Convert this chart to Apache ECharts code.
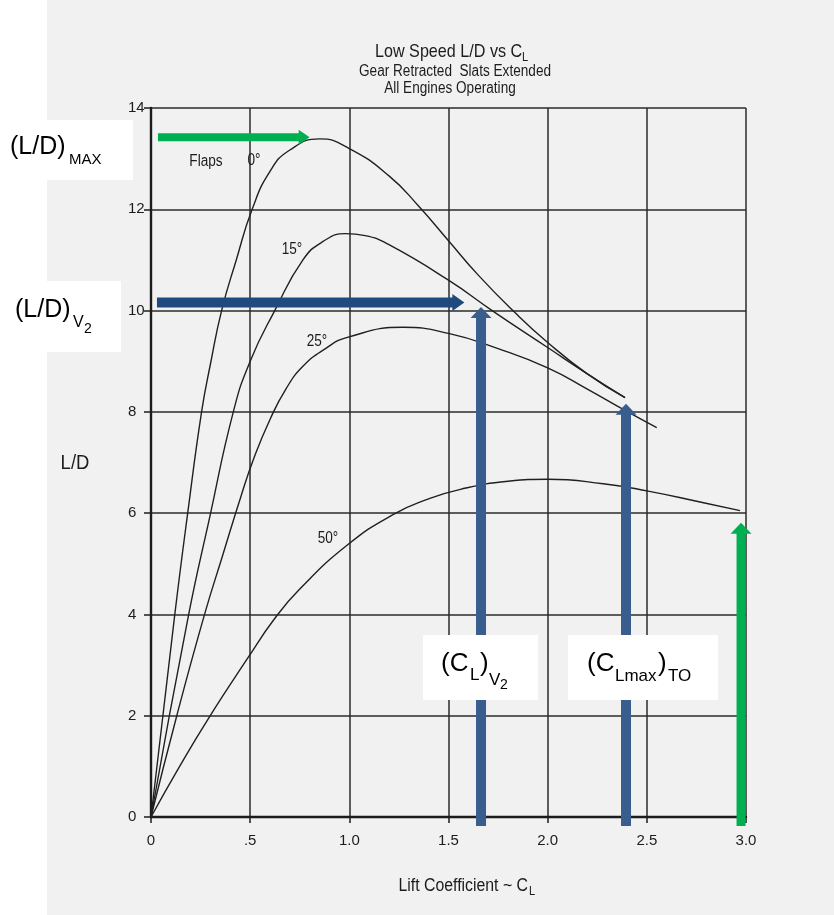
<!DOCTYPE html>
<html><head><meta charset="utf-8">
<script src="https://cdn.jsdelivr.net/npm/echarts@6/dist/echarts.min.js"></script>
<style>html,body{margin:0;padding:0;background:#fff}#c{width:834px;height:915px}</style>
</head><body><div id="c"></div>
<script>
// ---- data ----
const xTickValues = [0, 0.5, 1.0, 1.5, 2.0, 2.5, 3.0];
const xTickLabels = ['0', '.5', '1.0', '1.5', '2.0', '2.5', '3.0'];
const yTickValues = [0, 2, 4, 6, 8, 10, 12, 14];

const flaps0 = [[0,0],[0.12,4],[0.185,6],[0.255,8],[0.3,8.95],[0.356,10],[0.43,11],[0.51,12],[0.6,12.75],[0.7,13.17],[0.85,13.39],[1.0,13.2],[1.2,12.66],[1.35,12.06],[1.5,11.38],[1.65,10.7],[1.83,9.98],[2.0,9.37],[2.2,8.75],[2.39,8.28]];
const flaps15 = [[0,0],[0.19,4],[0.295,5.9],[0.415,8],[0.5,9],[0.624,10],[0.766,11.0],[0.866,11.36],[0.98,11.52],[1.08,11.48],[1.2,11.3],[1.5,10.6],[1.72,10.0],[2.0,9.27],[2.2,8.75],[2.39,8.28]];
const flaps25 = [[0,0],[0.13,2],[0.27,4],[0.36,5.15],[0.455,6.35],[0.52,7.1],[0.6,7.85],[0.68,8.45],[0.766,8.9],[0.88,9.25],[0.99,9.47],[1.27,9.67],[1.5,9.55],[1.75,9.25],[2.0,8.87],[2.2,8.45],[2.39,8.03],[2.55,7.69]];
const flaps50 = [[0,0],[0.14,0.97],[0.287,1.93],[0.49,3.15],[0.62,3.9],[0.75,4.5],[0.99,5.37],[1.22,5.97],[1.4,6.28],[1.56,6.47],[1.8,6.63],[2.0,6.67],[2.28,6.58],[2.5,6.44],[2.78,6.21],[2.97,6.05]];

// arrows: [x start, y start, x tip, y tip]
const arrowLDmax = [0.035, 13.42, 0.80, 13.42];
const arrowLDv2 = [0.03, 10.16, 1.58, 10.16];
const arrowCLv2 = [1.664, -0.18, 1.664, 10.07];
const arrowCLmaxTO = [2.395, -0.18, 2.395, 8.16];
const arrowCLend = [2.975, -0.18, 2.975, 5.81];

// ---- chart ----
const HELV = "'Liberation Sans',Arial,Helvetica,sans-serif";
const INK = '#1c1c1c';

function curve(name, data) {
  return {
    type: 'line', name, data, showSymbol: false, symbol: 'none', silent: true,
    smooth: 0.5, z: 3,
    lineStyle: { color: '#202020', width: 1.4 }
  };
}
function arrow(name, seg, color, shaftW, headW, headL) {
  return {
    type: 'custom', name, coordinateSystem: 'cartesian2d', clip: false, silent: true, z: 5,
    data: [seg], encode: { x: [0, 2], y: [1, 3] },
    renderItem(params, api) {
      const a = api.coord([api.value(0), api.value(1)]);
      const b = api.coord([api.value(2), api.value(3)]);
      const dx = b[0] - a[0], dy = b[1] - a[1];
      const L = Math.hypot(dx, dy), ux = dx / L, uy = dy / L, nx = -uy, ny = ux;
      const bx = b[0] - ux * headL, by = b[1] - uy * headL;
      const hw = shaftW / 2, hh = headW / 2;
      const pts = [
        [a[0] + nx * hw, a[1] + ny * hw], [bx + nx * hw, by + ny * hw], [bx + nx * hh, by + ny * hh],
        [b[0], b[1]], [bx - nx * hh, by - ny * hh], [bx - nx * hw, by - ny * hw], [a[0] - nx * hw, a[1] - ny * hw]
      ];
      return { type: 'polygon', shape: { points: pts }, style: { fill: color } };
    }
  };
}
// scan text: Helvetica-like, horizontally condensed
function txt(x, y, text, size, opts) {
  opts = opts || {};
  return {
    type: 'text', x, y, z: 120, silent: true,
    scaleX: opts.sx == null ? 0.85 : opts.sx,
    style: {
      text, fill: opts.fill || INK, font: size + 'px ' + HELV,
      align: opts.align || 'left', verticalAlign: 'middle'
    }
  };
}
function ptxt(x, y, text, size) {
  return txt(x, y, text, size, { sx: 1, fill: '#000' });
}
function box(x, y, w, h) {
  return { type: 'rect', z: 110, silent: true, shape: { x, y, width: w, height: h }, style: { fill: '#ffffff' } };
}

const chart = echarts.init(document.getElementById('c'), null, { renderer: 'canvas' });
chart.setOption({
  backgroundColor: '#f1f1f2',
  animation: false,
  grid: { left: 151, right: 88, top: 108, bottom: 98 },
  xAxis: {
    type: 'value', min: 0, max: 3, interval: 0.5,
    axisLine: { show: true, onZero: false, lineStyle: { color: INK, width: 2.4 } },
    axisTick: { show: true, length: 6, lineStyle: { color: INK, width: 1.5 } },
    axisLabel: {
      color: INK, fontFamily: HELV, fontSize: 15, margin: 16,
      formatter: v => { const i = xTickValues.indexOf(Math.round(v * 2) / 2); return i >= 0 ? xTickLabels[i] : ''; }
    },
    splitLine: { show: true, lineStyle: { color: '#2a2a2a', width: 1.5 } }
  },
  yAxis: {
    type: 'value', min: 0, max: 14, interval: 2,
    axisLine: { show: true, onZero: false, lineStyle: { color: INK, width: 2.4 } },
    axisTick: { show: true, length: 7, lineStyle: { color: INK, width: 1.5 } },
    axisLabel: { color: INK, fontFamily: HELV, fontSize: 15, margin: 23, align: 'left',
      formatter: v => (yTickValues.indexOf(v) >= 0 ? String(v) : '') },
    splitLine: { show: true, lineStyle: { color: '#2a2a2a', width: 1.5 } }
  },
  series: [
    curve('Flaps 0°', flaps0),
    curve('Flaps 15°', flaps15),
    curve('Flaps 25°', flaps25),
    curve('Flaps 50°', flaps50),
    arrow('(L/D)max', arrowLDmax, '#00b050', 8, 15, 11),
    arrow('(L/D)V2', arrowLDv2, '#1f4a7e', 10, 17, 12),
    arrow('(CL)V2', arrowCLv2, '#395e8e', 10, 21, 11),
    arrow('(CLmax)TO', arrowCLmaxTO, '#395e8e', 10, 21, 11),
    arrow('CL end', arrowCLend, '#00b050', 9, 21, 11)
  ],
  graphic: [
    { type: 'rect', z: -10, silent: true, shape: { x: 0, y: 0, width: 47, height: 915 }, style: { fill: '#ffffff' } },
    // title
    txt(375, 52, 'Low Speed L/D vs C', 19),
    txt(522, 57, 'L', 13),
    txt(455, 72, 'Gear Retracted  Slats Extended', 16, { align: 'center' }),
    txt(450, 89, 'All Engines Operating', 16, { align: 'center' }),
    // axis names
    txt(75, 463, 'L/D', 21, { align: 'center', sx: 0.88 }),
    txt(528, 886, 'Lift Coefficient ~ C', 18, { align: 'right', sx: 0.88 }),
    txt(529, 891, 'L', 13),
    // curve labels
    txt(206, 162, 'Flaps', 16, { align: 'center' }),
    txt(254, 161, '0°', 16, { align: 'center' }),
    txt(292, 250, '15°', 16, { align: 'center' }),
    txt(317, 342, '25°', 16, { align: 'center' }),
    txt(328, 539, '50°', 16, { align: 'center' }),
    // annotation boxes
    box(0, 120, 133, 60),
    ptxt(10, 147, '(L/D)', 25),
    ptxt(69, 160, 'MAX', 15),
    box(0, 281, 121, 71),
    ptxt(15, 310, '(L/D)', 25),
    ptxt(73, 323, 'V', 16),
    ptxt(84, 329, '2', 14),
    box(423, 635, 115, 65),
    ptxt(441, 664, '(C', 26),
    ptxt(470, 675, 'L', 17),
    ptxt(480, 664, ')', 26),
    ptxt(489, 680, 'V', 17),
    ptxt(500, 685, '2', 14),
    box(568, 635, 150, 65),
    ptxt(587, 664, '(C', 26),
    ptxt(615, 676, 'Lmax', 17),
    ptxt(658, 664, ')', 26),
    ptxt(668, 676, 'TO', 17)
  ]
});
</script></body></html>
